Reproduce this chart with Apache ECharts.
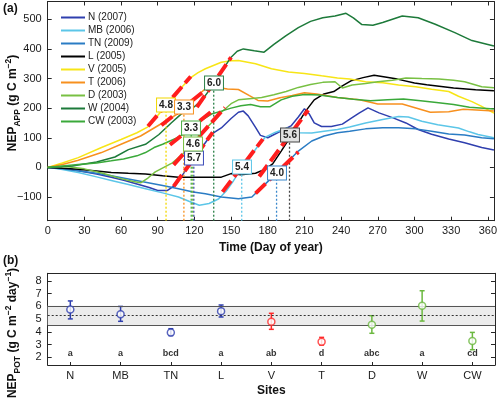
<!DOCTYPE html>
<html>
<head>
<meta charset="utf-8">
<script src="https://cdn.jsdelivr.net/npm/echarts@6/dist/echarts.min.js"></script>
<style>
  html, body { margin: 0; padding: 0; background: #fff; }
  #chart { width: 500px; height: 398px; }
</style>
</head>
<body>
<div id="chart"></div>
<script>
// ---- panel (a): cumulative NEP, [day, g C m-2] ----
const siteNames = ['N (2007)', 'MB (2006)', 'TN (2009)', 'L (2005)', 'V (2005)', 'T (2006)', 'D (2003)', 'W (2004)', 'CW (2003)'];
const siteColors = ['#2f3fae', '#5cc6e8', '#2a7cc4', '#000000', '#f7e516', '#f7901e', '#78c043', '#1d7a3a', '#3aa93a'];

const curveN = [[0,0],[12,-4],[25,-11],[40,-22],[52,-33],[63,-44],[73,-56],[83,-68],[90,-78],[98,-78],[105,-58],[112,-15],[119,28],[127,72],[134,112],[142,133],[150,165],[156,186],[160,190],[164,174],[170,135],[174,108],[180,100],[188,117],[199,140],[205,170],[210,198],[214,180],[218,150],[224,138],[232,138],[241,146],[249,168],[255,184],[262,201],[271,184],[282,168],[293,150],[303,128],[314,112],[328,96],[341,83],[355,67],[365,59]];
const curveMB = [[0,0],[12,-7],[25,-17],[40,-32],[52,-44],[66,-58],[80,-72],[94,-86],[107,-100],[116,-115],[124,-128],[132,-122],[140,-106],[146,-80],[152,-45],[159,0],[166,38],[172,72],[178,102],[186,118],[196,133],[205,117],[216,116],[226,122],[237,128],[247,136],[260,150],[274,162],[287,172],[295,170],[306,156],[319,144],[336,133],[345,120],[352,111],[365,100]];
const curveTN = [[0,0],[12,-5],[25,-11],[40,-20],[52,-28],[66,-39],[80,-50],[94,-61],[107,-72],[119,-83],[129,-89],[142,-100],[156,-106],[167,-100],[172,-80],[180,-48],[187,-20],[195,13],[205,55],[216,89],[226,106],[237,117],[247,122],[260,130],[274,134],[287,134],[301,130],[314,122],[328,113],[341,109],[355,100],[365,97]];
const curveL = [[0,0],[12,-3],[25,-6],[40,-12],[52,-17],[66,-20],[80,-22],[94,-28],[107,-33],[120,-33],[132,-33],[142,-33],[150,-21],[158,-25],[170,-20],[178,-6],[184,12],[191,55],[198,100],[205,150],[211,190],[218,228],[226,248],[234,256],[241,275],[248,292],[258,303],[267,311],[276,305],[286,298],[300,285],[310,279],[332,268],[350,262],[365,259]];
const curveV = [[0,0],[12,15],[25,33],[44,67],[60,94],[73,117],[82,137],[90,175],[97,210],[104,245],[110,272],[117,303],[123,320],[129,333],[142,355],[150,360],[156,361],[170,350],[183,333],[197,322],[210,317],[224,309],[237,302],[247,298],[260,289],[274,286],[287,278],[301,272],[314,264],[328,256],[336,240],[347,222],[355,206],[365,183]];
const curveT = [[0,0],[12,10],[25,24],[44,50],[60,78],[76,106],[87,133],[98,160],[106,180],[112,205],[120,232],[128,262],[135,272],[147,265],[156,263],[165,242],[172,226],[180,224],[190,235],[200,243],[210,252],[220,248],[237,236],[255,228],[270,214],[290,214],[313,186],[328,188],[340,196],[365,190]];
const curveD = [[0,0],[15,3],[30,-5],[45,-20],[60,-38],[70,-48],[76,-52],[82,-36],[88,-15],[95,0],[102,15],[110,43],[118,80],[126,116],[135,155],[142,186],[150,215],[156,228],[165,232],[175,236],[185,245],[195,256],[205,270],[215,280],[225,287],[235,289],[241,268],[249,278],[260,283],[270,289],[282,294],[293,302],[306,300],[320,298],[332,294],[341,289],[355,272],[365,269]];
const curveW = [[0,0],[20,5],[40,18],[55,35],[66,60],[80,78],[91,111],[101,150],[110,183],[118,198],[126,226],[132,260],[138,298],[144,335],[150,372],[155,392],[160,400],[169,394],[177,389],[185,415],[195,445],[205,472],[215,493],[225,505],[235,511],[244,520],[250,505],[257,482],[266,480],[274,489],[290,511],[303,505],[317,483],[333,455],[347,428],[360,415],[365,410]];
const curveCW = [[0,0],[12,5],[25,10],[40,15],[52,22],[62,28],[73,39],[80,50],[87,67],[94,78],[100,89],[106,100],[111,112],[118,134],[126,160],[134,180],[142,190],[150,200],[158,208],[166,212],[174,205],[182,205],[191,228],[200,240],[210,246],[222,244],[237,236],[250,230],[264,225],[278,228],[291,231],[305,225],[318,219],[332,212],[345,203],[365,197]];
const curves = [curveN, curveMB, curveTN, curveL, curveV, curveT, curveD, curveW, curveCW];

// maximum-slope fits (same site order): day of label, value there, slope, span
const fitDay = [119.5, 158.7, 187.2, 197.8, 96.8, 111.4, 118.5, 135.8, 117.4];
const fitValue = [30, 2, -19, 108, 210, 203, 80, 286, 134];
const fitSlope = [5.7, 5.4, 4.0, 5.6, 4.8, 3.3, 4.6, 6.0, 3.3];
const fitStart = [103, 143, 170, 173, 82, 93, 103, 122, 100];
const fitEnd = [135, 176, 205, 213, 117, 130, 145, 150, 135];
const fitBoxFill = ['#fff', '#fff', '#fff', '#e2e2e2', '#fff', '#fff', '#fff', '#fff', '#fff'];
const fitBoxEdge = ['#3a4ab8', '#5cc6e8', '#3a88cc', '#444444', '#f2d800', '#f7901e', '#78c043', '#2a8048', '#4aae45'];

const dayTicks = [0, 30, 60, 90, 120, 150, 180, 210, 240, 270, 300, 330, 360];
const appTicks = [-100, 0, 100, 200, 300, 400, 500];
const appMin = -180, appMax = 560;

// ---- panel (b): NEP_POT ----
const sites = ['N', 'MB', 'TN', 'L', 'V', 'T', 'D', 'W', 'CW'];
const potMean = [5.75, 5.38, 3.96, 5.63, 4.8, 3.23, 4.56, 6.05, 3.28];
const potLow = [5.02, 4.83, 3.71, 5.17, 4.2, 2.97, 3.89, 4.85, 2.6];
const potHigh = [6.43, 6.0, 4.25, 6.11, 5.46, 3.57, 5.27, 7.23, 3.96];
const potGroup = ['a', 'a', 'bcd', 'a', 'ab', 'd', 'abc', 'a', 'cd'];
const potColors = ['#2f3fae', '#2f3fae', '#2f3fae', '#2f3fae', '#ff2a2a', '#ff2a2a', '#6bb83f', '#6bb83f', '#6bb83f'];
const potTicks = [2, 3, 4, 5, 6, 7, 8];
const bandLow = 4.55, bandHigh = 6.05, bandMid = 5.3;
const letterY = 2.28;

const FONT = '"Liberation Sans", Arial, Helvetica, sans-serif';
const AXIS = '#262626';

const chart = echarts.init(document.getElementById('chart'), null, { renderer: 'canvas' });

function minusFmt(v) {
  return v < 0 ? '\u2212' + Math.abs(v) : String(v);
}

// rich text for the rotated axis titles (zrender style, so fill not color)
const titleRich = {
  b: { fontFamily: FONT, fontSize: 12, fontWeight: 'bold', fill: '#111', lineHeight: 18 },
  s: { fontFamily: FONT, fontSize: 8.5, fontWeight: 'bold', fill: '#111', lineHeight: 9, verticalAlign: 'bottom' },
  p: { fontFamily: FONT, fontSize: 8.5, fontWeight: 'bold', fill: '#111', lineHeight: 9, verticalAlign: 'top' }
};

function tickAxis(extra) {
  return Object.assign({
    type: 'value',
    axisLine: { show: true, onZero: false, lineStyle: { color: AXIS, width: 1 } },
    axisTick: { show: true, inside: true, length: 4, lineStyle: { color: AXIS } },
    axisLabel: { show: false },
    splitLine: { show: false }
  }, extra);
}

const series = [];

// curves
curves.forEach((c, i) => {
  series.push({
    name: siteNames[i], type: 'line', xAxisIndex: 0, yAxisIndex: 0,
    data: c, showSymbol: false, symbol: 'none', smooth: false,
    lineStyle: { color: siteColors[i], width: 1.5 },
    itemStyle: { color: siteColors[i] },
    z: 2, silent: true
  });
});

// dotted drop lines
fitDay.forEach((d, i) => {
  series.push({
    type: 'line', xAxisIndex: 0, yAxisIndex: 0,
    data: [[d, appMin], [d, fitValue[i]]], symbol: 'none',
    lineStyle: { color: fitBoxEdge[i], width: 1.3, type: [2, 2] },
    z: 3, silent: true
  });
});

// red fit lines
fitDay.forEach((d, i) => {
  const s = fitStart[i], e = fitEnd[i];
  series.push({
    type: 'line', xAxisIndex: 0, yAxisIndex: 0,
    data: [[s, fitValue[i] + fitSlope[i] * (s - d)], [e, fitValue[i] + fitSlope[i] * (e - d)]],
    symbol: 'none',
    lineStyle: { color: '#ff1e1e', width: 4, type: [14, 5], cap: 'butt' },
    z: 4, silent: true
  });
});

// slope label boxes
series.push({
  type: 'custom', xAxisIndex: 0, yAxisIndex: 0,
  data: fitDay.map((d, i) => [d, fitValue[i]]),
  renderItem: function (params, api) {
    const i = params.dataIndex;
    const p = api.coord([api.value(0), api.value(1)]);
    return {
      type: 'text', x: Math.round(p[0]), y: Math.round(p[1]),
      style: {
        text: fitSlope[i].toFixed(1),
        align: 'center', verticalAlign: 'middle',
        fontFamily: FONT, fontSize: 10, fontWeight: 'bold', fill: '#222',
        backgroundColor: fitBoxFill[i], borderColor: fitBoxEdge[i], borderWidth: 1,
        padding: [2, 2, 1, 2]
      }
    };
  },
  z: 6, silent: true
});

// panel (b): band, reference lines and circles
series.push({
  type: 'scatter', xAxisIndex: 2, yAxisIndex: 2,
  data: potMean.map((m, i) => ({ value: [i + 1, m], itemStyle: { borderColor: potColors[i] } })),
  symbol: 'circle', symbolSize: 7,
  itemStyle: { color: '#fff', borderWidth: 1.5 },
  markArea: {
    silent: true,
    itemStyle: { color: '#ececec' },
    data: [[{ yAxis: bandLow }, { yAxis: bandHigh }]]
  },
  markLine: {
    silent: true, symbol: 'none', label: { show: false },
    data: [
      { yAxis: bandHigh, lineStyle: { color: '#555', width: 1, type: 'solid' } },
      { yAxis: bandLow, lineStyle: { color: '#555', width: 1, type: 'solid' } },
      { yAxis: bandMid, lineStyle: { color: '#333', width: 1, type: [2, 2] } }
    ]
  },
  z: 5, silent: true
});

// error bars
series.push({
  type: 'custom', xAxisIndex: 2, yAxisIndex: 2,
  data: potMean.map((m, i) => [i + 1, potLow[i], potHigh[i]]),
  renderItem: function (params, api) {
    const x = api.value(0);
    const top = api.coord([x, api.value(2)]);
    const bot = api.coord([x, api.value(1)]);
    const color = potColors[params.dataIndex];
    const st = { stroke: color, lineWidth: 1.5 };
    const cap = 2.5;
    return {
      type: 'group',
      children: [
        { type: 'line', shape: { x1: top[0], y1: top[1], x2: bot[0], y2: bot[1] }, style: st },
        { type: 'line', shape: { x1: top[0] - cap, y1: top[1], x2: top[0] + cap, y2: top[1] }, style: st },
        { type: 'line', shape: { x1: bot[0] - cap, y1: bot[1], x2: bot[0] + cap, y2: bot[1] }, style: st }
      ]
    };
  },
  z: 4, silent: true
});

// group letters
series.push({
  type: 'custom', xAxisIndex: 2, yAxisIndex: 2,
  data: potGroup.map((g, i) => [i + 1, letterY]),
  renderItem: function (params, api) {
    const p = api.coord([api.value(0), api.value(1)]);
    return {
      type: 'text', x: p[0], y: p[1],
      style: {
        text: potGroup[params.dataIndex], align: 'center', verticalAlign: 'middle',
        fontFamily: FONT, fontSize: 9, fontWeight: 'bold', fill: '#333'
      }
    };
  },
  z: 6, silent: true
});

const option = {
  backgroundColor: '#fff',
  animation: false,
  grid: [
    { left: 47.7, right: 3.5, top: 1.5, bottom: 177.3, containLabel: false },
    { left: 47.7, right: 5, top: 273.3, bottom: 25.7, containLabel: false }
  ],
  legend: {
    data: siteNames,
    orient: 'vertical', left: 56, top: 6.5,
    icon: 'rect', itemWidth: 24, itemHeight: 2, itemGap: 1,
    selectedMode: false,
    textStyle: { fontFamily: FONT, fontSize: 10, color: '#222', lineHeight: 12, padding: [0, 0, 0, -2] }
  },
  xAxis: [
    tickAxis({
      gridIndex: 0, position: 'bottom', min: 0, max: 365,
      axisTick: { show: true, inside: true, length: 4, lineStyle: { color: AXIS }, customValues: dayTicks },
      axisLabel: { show: true, customValues: dayTicks, fontFamily: FONT, fontSize: 11, color: '#1a1a1a', margin: 5 },
      name: 'Time (Day of year)', nameLocation: 'middle', nameGap: 19,
      nameTextStyle: { fontFamily: FONT, fontSize: 12, fontWeight: 'bold', color: '#111' }
    }),
    tickAxis({
      gridIndex: 0, position: 'top', min: 0, max: 365,
      axisTick: { show: true, inside: true, length: 4, lineStyle: { color: AXIS }, customValues: dayTicks }
    }),
    tickAxis({
      gridIndex: 1, position: 'bottom', min: 0.55, max: 9.45,
      axisTick: { show: true, inside: true, length: 3, lineStyle: { color: AXIS }, customValues: [1, 2, 3, 4, 5, 6, 7, 8, 9] },
      axisLabel: {
        show: true, customValues: [1, 2, 3, 4, 5, 6, 7, 8, 9],
        formatter: v => sites[Math.round(v) - 1],
        fontFamily: FONT, fontSize: 11, color: '#1a1a1a', margin: 5
      },
      name: 'Sites', nameLocation: 'middle', nameGap: 20,
      nameTextStyle: { fontFamily: FONT, fontSize: 12, fontWeight: 'bold', color: '#111' }
    }),
    tickAxis({
      gridIndex: 1, position: 'top', min: 0.55, max: 9.45,
      axisTick: { show: false }
    })
  ],
  yAxis: [
    tickAxis({
      gridIndex: 0, position: 'left', min: appMin, max: appMax,
      axisTick: { show: true, inside: true, length: 4, lineStyle: { color: AXIS }, customValues: appTicks },
      axisLabel: { show: true, customValues: appTicks, formatter: minusFmt, fontFamily: FONT, fontSize: 11, color: '#1a1a1a', margin: 6 }
    }),
    tickAxis({
      gridIndex: 0, position: 'right', min: appMin, max: appMax,
      axisTick: { show: true, inside: true, length: 4, lineStyle: { color: AXIS }, customValues: appTicks }
    }),
    tickAxis({
      gridIndex: 1, position: 'left', min: 1.4, max: 8.6,
      axisTick: { show: true, inside: true, length: 4, lineStyle: { color: AXIS }, customValues: potTicks },
      axisLabel: { show: true, customValues: potTicks, fontFamily: FONT, fontSize: 11, color: '#1a1a1a', margin: 6 }
    }),
    tickAxis({
      gridIndex: 1, position: 'right', min: 1.4, max: 8.6,
      axisTick: { show: true, inside: true, length: 4, lineStyle: { color: AXIS }, customValues: potTicks }
    })
  ],
  graphic: [
    { type: 'text', left: 3, top: 3, style: { text: '(a)', fontFamily: FONT, fontSize: 12, fontWeight: 'bold', fill: '#111' } },
    { type: 'text', left: 3, top: 255, style: { text: '(b)', fontFamily: FONT, fontSize: 12, fontWeight: 'bold', fill: '#111' } },
    {
      type: 'text', x: 13, y: 103, rotation: Math.PI / 2,
      style: { text: '{b|NEP}{s|APP}{b| (g C m}{p|\u22122}{b|)}', rich: titleRich, align: 'center', verticalAlign: 'middle' }
    },
    {
      type: 'text', x: 13, y: 333, rotation: Math.PI / 2,
      style: { text: '{b|NEP}{s|POT}{b| (g C m}{p|\u22122}{b| day}{p|\u22121}{b|)}', rich: titleRich, align: 'center', verticalAlign: 'middle' }
    }
  ],
  series: series
};

chart.setOption(option);
</script>
</body>
</html>
